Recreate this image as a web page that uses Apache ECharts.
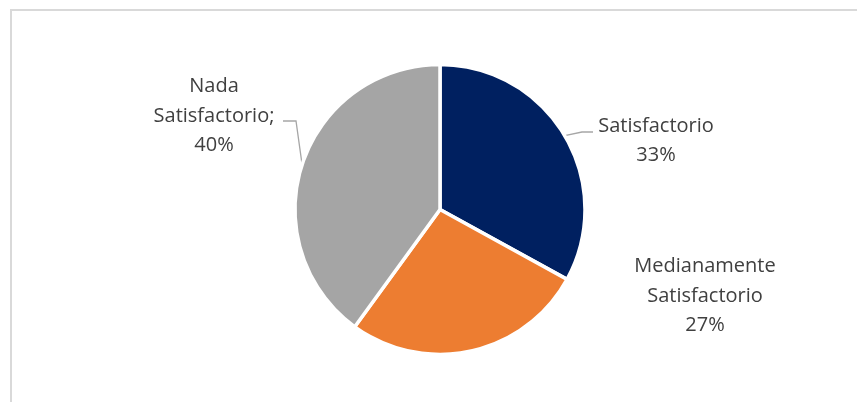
<!DOCTYPE html>
<html>
<head>
<meta charset="utf-8">
<script src="https://cdn.jsdelivr.net/npm/echarts@6/dist/echarts.min.js"></script>
<style>
  html, body { margin: 0; padding: 0; background: #ffffff; }
  #chart { width: 857px; height: 402px; }
</style>
</head>
<body>
<div id="chart"></div>
<script>
// Survey result: level of satisfaction (percent of responses)
const categories = ['Satisfactorio', 'Medianamente Satisfactorio', 'Nada Satisfactorio'];
const labelLines = [['Satisfactorio'], ['Medianamente', 'Satisfactorio'], ['Nada', 'Satisfactorio;']];
const values = [33, 27, 40];
const colors = ['#002060', '#ED7D31', '#A5A5A5'];

// Where each label block is centred, and the bend of its leader line
const labelSpots = [
  { x: 656, y: 141, bend: [[582, 132], [593, 132]] },
  { x: 705, y: 296, bend: null },
  { x: 214, y: 116, bend: [[296, 121], [283, 121]] }
];

const chart = echarts.init(document.getElementById('chart'));

const data = categories.map((name, i) => ({
  name: name,
  value: values[i],
  itemStyle: { color: colors[i] },
  labelLine: { show: labelSpots[i].bend !== null }
}));

chart.setOption({
  animation: false,
  graphic: [{
    type: 'polyline',
    shape: { points: [[11, 402], [11, 10], [857, 10]] },
    style: { stroke: '#d9d9d9', lineWidth: 2, fill: null },
    silent: true
  }],
  series: [{
    type: 'pie',
    center: [440, 209.5],
    radius: 145,
    startAngle: 90,
    clockwise: true,
    itemStyle: { borderColor: '#ffffff', borderWidth: 3.5 },
    label: {
      show: true,
      position: 'outside',
      color: '#404040',
      fontFamily: 'Open Sans',
      fontSize: 20,
      lineHeight: 29.5,
      align: 'center',
      formatter: p => labelLines[p.dataIndex].concat([p.value + '%']).join('\n')
    },
    labelLine: {
      show: true,
      length: 10,
      length2: 10,
      lineStyle: { color: '#a6a6a6', width: 1.3 }
    },
    labelLayout: params => {
      const s = labelSpots[params.dataIndex];
      const out = { x: s.x, y: s.y, align: 'center', verticalAlign: 'middle' };
      if (s.bend && params.labelLinePoints) {
        out.labelLinePoints = [params.labelLinePoints[0], s.bend[0], s.bend[1]];
      }
      return out;
    },
    data: data
  }]
});
</script>
</body>
</html>
